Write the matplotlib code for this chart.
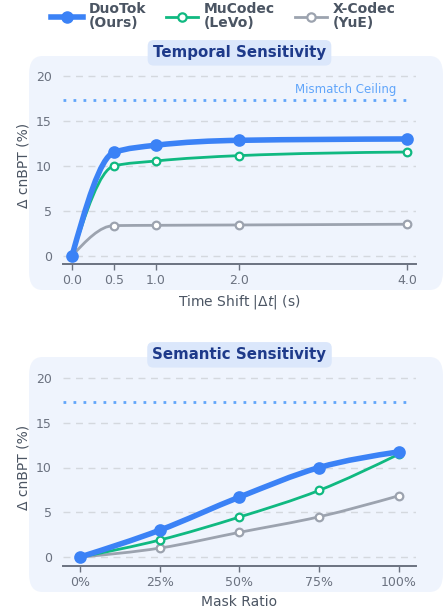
import numpy as np
import matplotlib.pyplot as plt
from matplotlib.path import Path
from matplotlib.patches import PathPatch, FancyBboxPatch
from matplotlib.lines import Line2D

# data
time_shift = [0.0, 0.5, 1.0, 2.0, 4.0]
temporal_duotok = [0.0, 11.5, 12.3, 12.85, 13.0]
temporal_mucodec = [0.0, 10.0, 10.55, 11.15, 11.55]
temporal_xcodec = [0.0, 3.37, 3.4, 3.44, 3.52]

mask_labels = ['0%', '25%', '50%', '75%', '100%']
mask_pos = [0, 1, 2, 3, 4]
semantic_duotok = [0.0, 3.0, 6.7, 10.0, 11.75]
semantic_mucodec = [0.0, 1.9, 4.47, 7.45, 11.5]
semantic_xcodec = [0.0, 1.0, 2.76, 4.5, 6.85]

ceiling = 17.3

BLUE = '#3b82f6'
GREEN = '#10b981'
GRAY = '#9ca3af'
TXT = '#4b5563'
TICK = '#6b7280'


def smooth_path(x, y):
	'''monotone cubic (bezier) path through the points'''
	x = np.asarray(x, float)
	y = np.asarray(y, float)
	h = np.diff(x)
	s = np.diff(y) / h
	n = len(x)
	m = np.zeros(n)
	for i in range(1, n - 1):
		if s[i-1] * s[i] <= 0:
			m[i] = 0
		else:
			p = (s[i-1]*h[i] + s[i]*h[i-1]) / (h[i-1] + h[i])
			m[i] = (np.sign(s[i-1]) + np.sign(s[i])) * min(abs(s[i-1]), abs(s[i]), 0.5*abs(p))
	m[0] = (3*s[0] - m[1]) / 2 if n > 2 else s[0]
	m[-1] = (3*s[-1] - m[-2]) / 2 if n > 2 else s[-1]
	verts = [(x[0], y[0])]
	codes = [Path.MOVETO]
	for i in range(n - 1):
		d = h[i] / 3
		verts += [(x[i]+d, y[i]+m[i]*d), (x[i+1]-d, y[i+1]-m[i+1]*d), (x[i+1], y[i+1])]
		codes += [Path.CURVE4]*3
	return Path(verts, codes)


def draw_series(ax, x, y, color, lw, ms, filled, z):
	ax.add_patch(PathPatch(smooth_path(x, y), facecolor='none', edgecolor=color, lw=lw,
		capstyle='round', joinstyle='round', zorder=z))
	ax.plot(x, y, 'o', color=color, ms=ms, mfc=color if filled else 'white',
		mec=color, mew=1.6, zorder=z+0.5, ls='none', clip_on=False)


def style_axes(ax, fig, title, panel_y0, panel_y1):
	# background panel
	fig.patches.append(FancyBboxPatch((29/446, panel_y0), (443-29)/446, panel_y1-panel_y0,
		boxstyle='round,pad=0,rounding_size=0.03', transform=fig.transFigure,
		facecolor='#eff4fd', edgecolor='none', zorder=-5))
	ax.set_facecolor('none')
	for sp in ['top', 'right', 'left']:
		ax.spines[sp].set_visible(False)
	ax.spines['bottom'].set_color(TICK)
	ax.spines['bottom'].set_linewidth(1.4)
	ax.set_ylim(-0.9, 21)
	ax.set_yticks([0, 5, 10, 15, 20])
	ax.tick_params(axis='y', length=0, labelsize=9, labelcolor=TICK, pad=8)
	ax.tick_params(axis='x', length=4, width=1, color=TICK, labelsize=9, labelcolor=TICK)
	for v in [0, 5, 10, 15, 20]:
		ax.axhline(v, color='#d4d8de', lw=1, ls=(0, (5, 4)), zorder=1)
	ax.axhline(ceiling, color='#60a5fa', lw=2, ls=(0, (1, 2.6)), zorder=1.5, xmax=0.99, xmin=0.0)
	ax.set_ylabel('Δ cnBPT (%)', fontsize=10, color=TXT)
	ax.text(0.5, 1.072, title, transform=ax.transAxes, ha='center', va='center',
		fontsize=10.8, fontweight='bold', color='#1e3a8a',
		bbox=dict(boxstyle='round,pad=0.35,rounding_size=0.4', facecolor='#dbe7fb', edgecolor='none'))


fig = plt.figure(figsize=(4.46, 6.14), dpi=100)
fig.patch.set_facecolor('white')

# temporal
ax1 = fig.add_axes([63/446, (614-264)/614, 353/446, 197/614])
style_axes(ax1, fig, 'Temporal Sensitivity', (614-290)/614, (614-56)/614)
draw_series(ax1, time_shift, temporal_xcodec, GRAY, 2, 5.5, False, 3)
draw_series(ax1, time_shift, temporal_mucodec, GREEN, 2, 5.5, False, 4)
draw_series(ax1, time_shift, temporal_duotok, BLUE, 4, 7.5, True, 5)
ax1.set_xlim(-0.107, 4.107)
ax1.set_xticks(time_shift)
ax1.set_xticklabels([f'{v:.1f}' for v in time_shift])
ax1.set_xlabel(r'Time Shift $|\mathit{\Delta t}|$ (s)', fontsize=10, color=TXT)
ax1.text(0.8, 0.855, 'Mismatch Ceiling', transform=ax1.transAxes, ha='center', va='bottom',
	fontsize=8.5, color='#60a5fa')

# semantic
ax2 = fig.add_axes([63/446, (614-566)/614, 353/446, 197/614])
style_axes(ax2, fig, 'Semantic Sensitivity', (614-592)/614, (614-357)/614)
draw_series(ax2, mask_pos, semantic_xcodec, GRAY, 2, 5.5, False, 3)
draw_series(ax2, mask_pos, semantic_mucodec, GREEN, 2, 5.5, False, 4)
draw_series(ax2, mask_pos, semantic_duotok, BLUE, 4, 7.5, True, 5)
ax2.set_xlim(-0.213, 4.213)
ax2.set_ylim(-1.0, 21)
ax2.set_xticks(mask_pos)
ax2.set_xticklabels(mask_labels)
ax2.set_xlabel('Mask Ratio', fontsize=10, color=TXT)

# legend
handles = [
	Line2D([], [], color=BLUE, lw=4, marker='o', ms=8, mfc=BLUE, mec=BLUE),
	Line2D([], [], color=GREEN, lw=2, marker='o', ms=6, mfc='white', mec=GREEN, mew=1.6),
	Line2D([], [], color=GRAY, lw=2, marker='o', ms=6, mfc='white', mec=GRAY, mew=1.6),
]
labels = ['DuoTok\n(Ours)', 'MuCodec\n(LeVo)', 'X-Codec\n(YuE)']
leg = fig.legend(handles, labels, loc='center', bbox_to_anchor=(0.5, 1 - 16/614), ncol=3,
	frameon=False, handlelength=2.3, columnspacing=1.45, handletextpad=0.4,
	prop=dict(weight='bold', size=10))
for t in leg.get_texts():
	t.set_color(TXT)
	t.set_linespacing(0.95)

fig.savefig('out.png', dpi=100)
